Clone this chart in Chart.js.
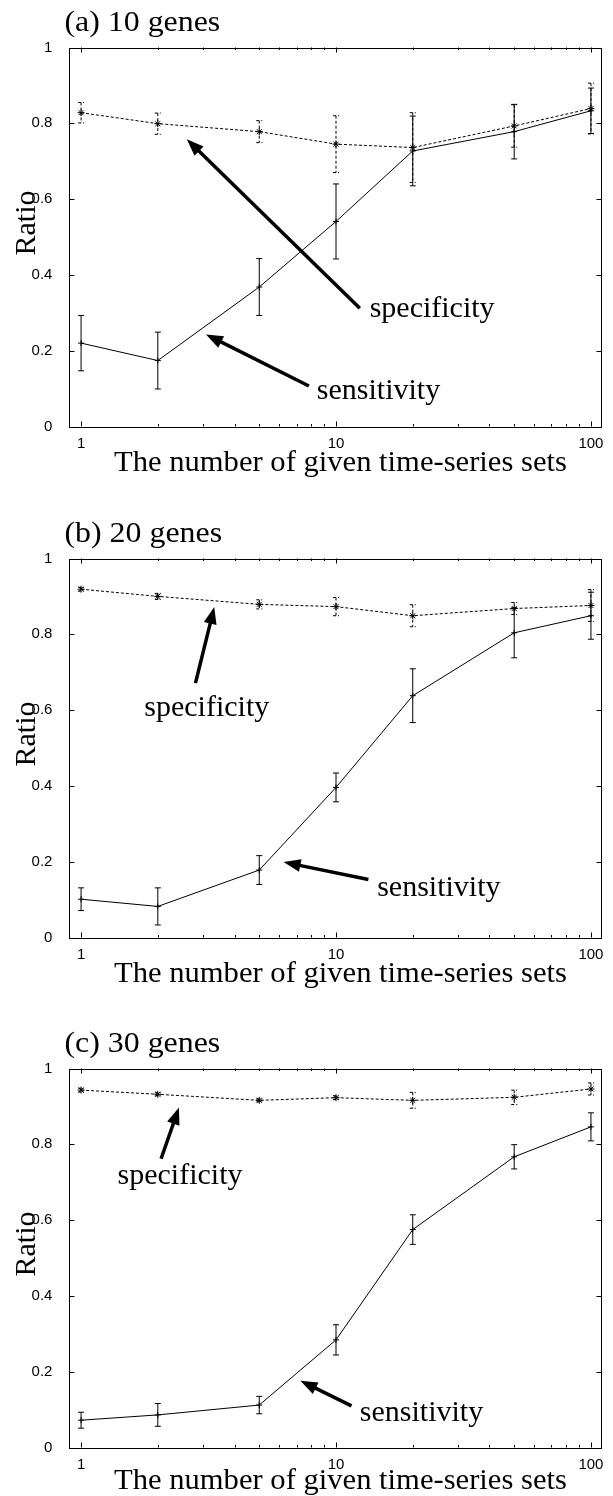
<!DOCTYPE html>
<html>
<head>
<meta charset="utf-8">
<script src="https://cdn.jsdelivr.net/npm/chart.js@4.4.0/dist/chart.umd.min.js"></script>
<style>
  html, body { margin: 0; padding: 0; background: #fff; overflow: hidden; }
  .panel { position: absolute; left: 0; }
</style>
</head>
<body>
<canvas id="chartA" class="panel" width="613" height="490" style="top:0px"></canvas>
<canvas id="chartB" class="panel" width="613" height="490" style="top:511px"></canvas>
<canvas id="chartC" class="panel" width="613" height="475" style="top:1021px"></canvas>
<script>
// number of given time-series sets
const xValues = [1, 2, 5, 10, 20, 50, 100];
const xTickValues = [1, 10, 100];
const xMinorValues = [2, 3, 4, 5, 6, 7, 8, 9, 20, 30, 40, 50, 60, 70, 80, 90];
const yTickValues = [0, 0.2, 0.4, 0.6, 0.8, 1];

// (a) 10 genes
const specA = [0.828, 0.799, 0.778, 0.745, 0.736, 0.793, 0.839];
const specErrA = [0.027, 0.028, 0.029, 0.075, 0.092, 0.056, 0.067];
const sensA = [0.220, 0.174, 0.368, 0.541, 0.727, 0.778, 0.833];
const sensErrA = [0.073, 0.075, 0.075, 0.099, 0.092, 0.072, 0.060];

// (b) 20 genes
const specB = [0.919, 0.900, 0.879, 0.873, 0.849, 0.868, 0.876];
const specErrB = [0.005, 0.008, 0.012, 0.024, 0.029, 0.016, 0.042];
const sensB = [0.101, 0.082, 0.178, 0.396, 0.638, 0.804, 0.849];
const sensErrB = [0.030, 0.049, 0.038, 0.038, 0.071, 0.066, 0.062];

// (c) 30 genes
const specC = [0.943, 0.932, 0.916, 0.923, 0.916, 0.924, 0.946];
const specErrC = [0.005, 0.004, 0.004, 0.005, 0.021, 0.019, 0.016];
const sensC = [0.072, 0.086, 0.112, 0.284, 0.575, 0.767, 0.846];
const sensErrC = [0.021, 0.030, 0.023, 0.040, 0.039, 0.032, 0.037];

// arrows: [tail, tip] in data coords, labels: [x, y] of text start (baseline)
const specArrowA = [[12.4, 0.312], [2.60, 0.758]];
const specLabelA = [13.55, 0.288];
const sensArrowA = [[7.83, 0.107], [3.09, 0.243]];
const sensLabelA = [8.41, 0.072];

const specArrowB = [[2.81, 0.671], [3.33, 0.872]];
const specLabelB = [1.77, 0.585];
const sensArrowB = [[13.4, 0.153], [6.23, 0.199]];
const sensLabelB = [14.5, 0.109];

const specArrowC = [[2.06, 0.762], [2.42, 0.897]];
const specLabelC = [1.39, 0.696];
const sensArrowC = [[11.5, 0.110], [7.25, 0.176]];
const sensLabelC = [12.4, 0.069];

const SERIF = '"Liberation Serif", "Times New Roman", serif';
const SANS = '"Liberation Sans", Arial, sans-serif';

const drawText = (ctx, text, x, y, size, align, stretch) => {
    ctx.save();
    ctx.translate(x, y);
    ctx.scale(stretch || 1, 1);
    ctx.font = size + 'px ' + SERIF;
    ctx.fillStyle = '#000';
    ctx.textAlign = align || 'left';
    ctx.textBaseline = 'alphabetic';
    ctx.fillText(text, 0, 0);
    ctx.restore();
};

const drawArrow = (ctx, x0, y0, x1, y1) => {
    const dx = x1 - x0, dy = y1 - y0;
    const len = Math.sqrt(dx * dx + dy * dy);
    const ux = dx / len, uy = dy / len;
    const headLen = 17, headHalf = 6.5;
    const bx = x1 - ux * headLen, by = y1 - uy * headLen;
    ctx.save();
    ctx.strokeStyle = '#000';
    ctx.fillStyle = '#000';
    ctx.lineWidth = 3.5;
    ctx.setLineDash([]);
    ctx.beginPath();
    ctx.moveTo(x0, y0);
    ctx.lineTo(bx + ux * 2, by + uy * 2);
    ctx.stroke();
    ctx.beginPath();
    ctx.moveTo(x1, y1);
    ctx.lineTo(bx - uy * headHalf, by + ux * headHalf);
    ctx.lineTo(bx + uy * headHalf, by - ux * headHalf);
    ctx.closePath();
    ctx.fill();
    ctx.restore();
};

// frame, inside ticks, error bars, arrows and texts in gnuplot style
const gnuplotPlugin = {
    id: 'gnuplot',
    afterDatasetsDraw(chart, args, opts) {
        const ctx = chart.ctx;
        const area = chart.chartArea;
        const xs = chart.scales.x, ys = chart.scales.y;

        ctx.save();
        ctx.strokeStyle = '#000';
        ctx.lineWidth = 1;

        // error bars
        chart.data.datasets.forEach((ds, i) => {
            const errs = opts.errors[i];
            ctx.setLineDash(ds.borderDash || []);
            ds.data.forEach((p, j) => {
                const px = xs.getPixelForValue(p.x);
                const top = ys.getPixelForValue(p.y + errs[j]);
                const bot = ys.getPixelForValue(p.y - errs[j]);
                ctx.beginPath();
                ctx.moveTo(px, top);
                ctx.lineTo(px, bot);
                ctx.moveTo(px - 3, top);
                ctx.lineTo(px + 3, top);
                ctx.moveTo(px - 3, bot);
                ctx.lineTo(px + 3, bot);
                ctx.stroke();
            });
        });
        ctx.setLineDash([]);

        // frame
        ctx.strokeRect(Math.round(area.left) + 0.5, Math.round(area.top) + 0.5,
            Math.round(area.right - area.left), Math.round(area.bottom - area.top));

        // ticks pointing inwards, on all four sides
        ctx.beginPath();
        yTickValues.forEach(v => {
            const py = Math.round(ys.getPixelForValue(v)) + 0.5;
            ctx.moveTo(area.left, py); ctx.lineTo(area.left + 5, py);
            ctx.moveTo(area.right, py); ctx.lineTo(area.right - 5, py);
        });
        xTickValues.forEach(v => {
            const px = Math.round(xs.getPixelForValue(v)) + 0.5;
            ctx.moveTo(px, area.bottom); ctx.lineTo(px, area.bottom - 5);
            ctx.moveTo(px, area.top); ctx.lineTo(px, area.top + 5);
        });
        xMinorValues.forEach(v => {
            const px = Math.round(xs.getPixelForValue(v)) + 0.5;
            ctx.moveTo(px, area.bottom); ctx.lineTo(px, area.bottom - 2.5);
            ctx.moveTo(px, area.top); ctx.lineTo(px, area.top + 2.5);
        });
        ctx.stroke();
        ctx.restore();

        // arrows and labels
        opts.notes.forEach(n => {
            drawArrow(ctx,
                xs.getPixelForValue(n.arrow[0][0]), ys.getPixelForValue(n.arrow[0][1]),
                xs.getPixelForValue(n.arrow[1][0]), ys.getPixelForValue(n.arrow[1][1]));
            drawText(ctx, n.text, xs.getPixelForValue(n.label[0]), ys.getPixelForValue(n.label[1]), 30, 'left', 1);
        });

        // panel title
        drawText(ctx, opts.title, area.left - 5, area.top - 17, 29, 'left', 1.1);
        // x axis title
        drawText(ctx, 'The number of given time-series sets',
            (area.left + area.right) / 2 + 5, area.bottom + opts.xTitleGap, 30, 'center', 1.02);
        // y axis title
        ctx.save();
        ctx.translate(35, (area.top + area.bottom) / 2 - 14);
        ctx.rotate(-Math.PI / 2);
        drawText(ctx, 'Ratio', 0, 0, 30, 'center', 1);
        ctx.restore();
    }
};

const toPoints = (vals) => xValues.map((x, i) => ({ x: x, y: vals[i] }));

const makeChart = (id, title, spec, specErr, sens, sensErr, notes, xTitleGap) => {
    const canvas = document.getElementById(id);
    const h = canvas.height;
    return new Chart(canvas.getContext('2d'), {
        type: 'line',
        data: {
            datasets: [{
                label: 'specificity',
                data: toPoints(spec),
                borderColor: '#000',
                backgroundColor: '#000',
                borderWidth: 1,
                borderDash: [3, 2],
                pointStyle: 'star',
                pointRadius: 3.5,
                pointBorderWidth: 1,
                tension: 0
            }, {
                label: 'sensitivity',
                data: toPoints(sens),
                borderColor: '#000',
                backgroundColor: '#000',
                borderWidth: 1,
                pointStyle: 'cross',
                pointRadius: 3,
                pointBorderWidth: 1,
                tension: 0
            }]
        },
        options: {
            responsive: false,
            animation: false,
            layout: { padding: { top: 47.5, right: 11.5, bottom: h - 426.5 - 40, left: 0 } },
            plugins: {
                legend: { display: false },
                tooltip: { enabled: false },
                gnuplot: { errors: [specErr, sensErr], notes: notes, title: title, xTitleGap: xTitleGap }
            },
            scales: {
                x: {
                    type: 'logarithmic',
                    min: 0.9,
                    max: 110,
                    grid: { display: false },
                    border: { display: false },
                    afterFit: (scale) => { scale.height = 40; },
                    afterBuildTicks: (scale) => { scale.ticks = xTickValues.map(v => ({ value: v })); },
                    ticks: {
                        autoSkip: false,
                        maxRotation: 0,
                        padding: 0,
                        color: '#000',
                        font: { family: SANS, size: 15 },
                        callback: (v) => String(v)
                    }
                },
                y: {
                    min: 0,
                    max: 1,
                    grid: { display: false },
                    border: { display: false },
                    afterFit: (scale) => { scale.width = 69.4; },
                    ticks: {
                        stepSize: 0.2,
                        padding: 9,
                        color: '#000',
                        font: { family: SANS, size: 15 },
                        callback: (v) => String(Math.round(v * 10) / 10)
                    }
                }
            }
        },
        plugins: [gnuplotPlugin]
    });
};

makeChart('chartA', '(a) 10 genes', specA, specErrA, sensA, sensErrA, [
    { text: 'specificity', arrow: specArrowA, label: specLabelA },
    { text: 'sensitivity', arrow: sensArrowA, label: sensLabelA }
], 44);
makeChart('chartB', '(b) 20 genes', specB, specErrB, sensB, sensErrB, [
    { text: 'specificity', arrow: specArrowB, label: specLabelB },
    { text: 'sensitivity', arrow: sensArrowB, label: sensLabelB }
], 44);
makeChart('chartC', '(c) 30 genes', specC, specErrC, sensC, sensErrC, [
    { text: 'specificity', arrow: specArrowC, label: specLabelC },
    { text: 'sensitivity', arrow: sensArrowC, label: sensLabelC }
], 41);
</script>
</body>
</html>
